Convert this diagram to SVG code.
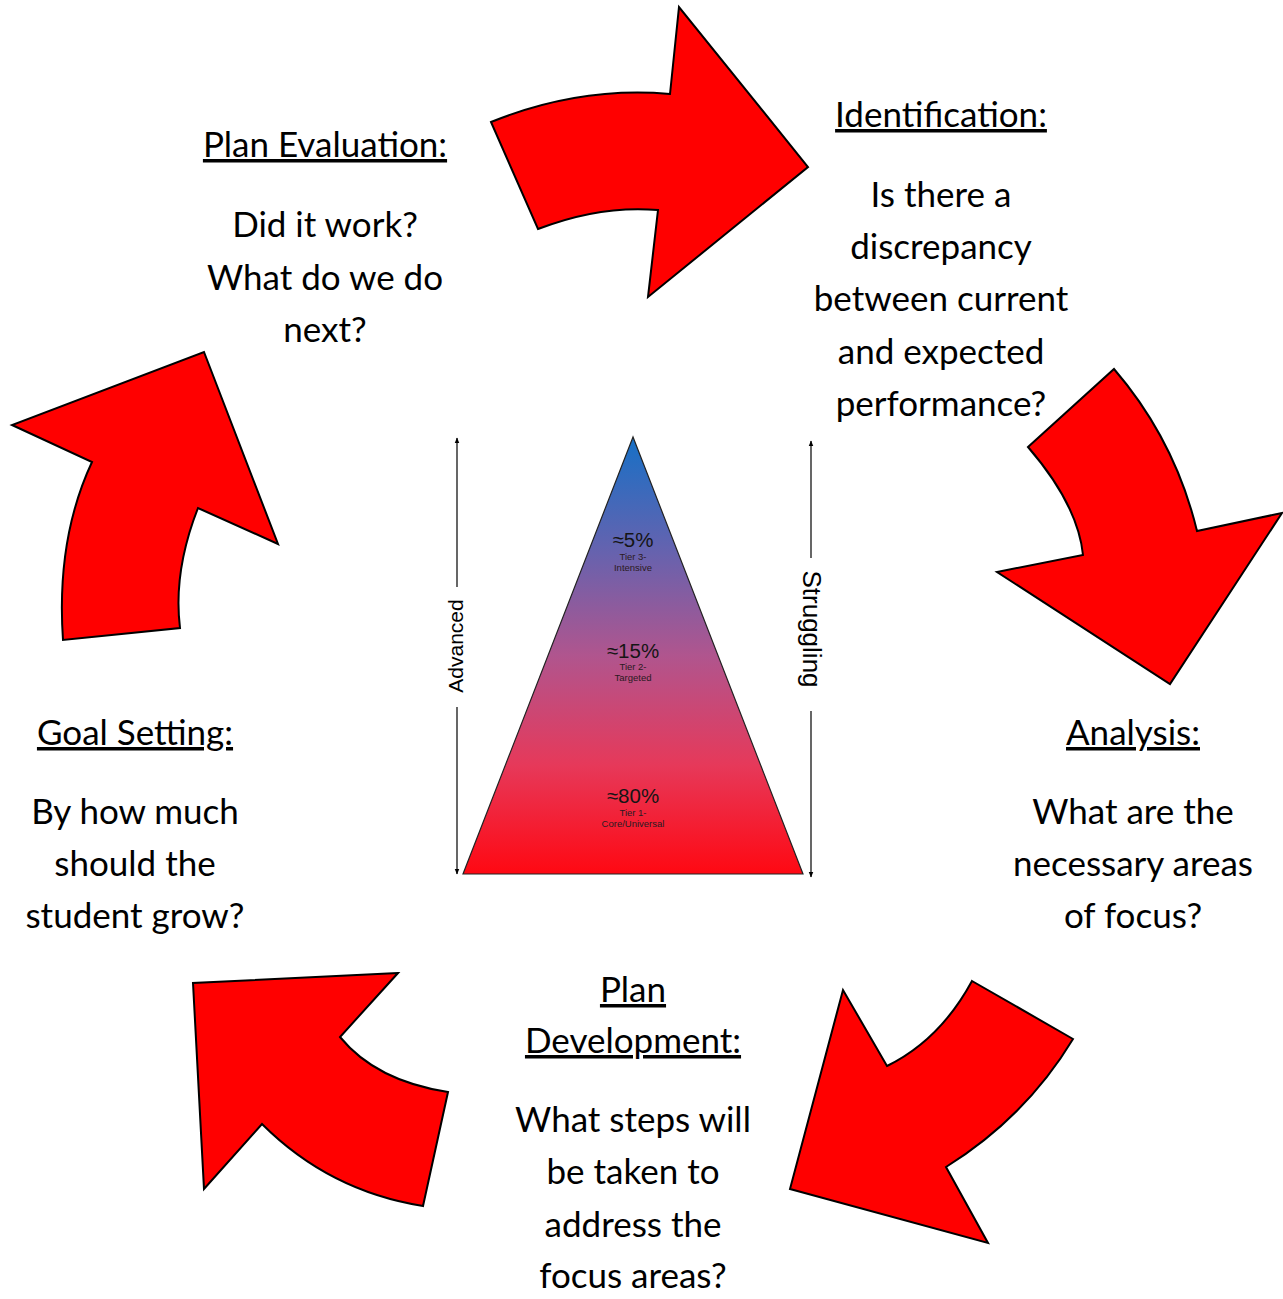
<svg xmlns="http://www.w3.org/2000/svg" width="1283" height="1299" viewBox="0 0 1283 1299">
  <defs>
    <linearGradient id="tierGrad" x1="0" y1="0" x2="0" y2="1">
      <stop offset="0" stop-color="#1670c6"/>
      <stop offset="0.25" stop-color="#6263b0"/>
      <stop offset="0.5" stop-color="#b0558e"/>
      <stop offset="0.75" stop-color="#e6395a"/>
      <stop offset="1" stop-color="#ff0812"/>
    </linearGradient>
    <marker id="tip" viewBox="0 0 10 10" refX="9" refY="5" markerWidth="5" markerHeight="5" orient="auto-start-reverse">
      <path d="M0,1 L10,5 L0,9 z" fill="#000"/>
    </marker>
    <style>
      .bigArrow { fill: #ff0000; stroke: #000; stroke-width: 2; stroke-linejoin: miter; }
      .txt { font-family: Lato, "Liberation Sans", sans-serif; font-size: 35px; fill: #000; text-anchor: middle; }
      .title { text-decoration: underline; }
      .axis { stroke: #000; stroke-width: 1.2; fill: none; }
      .axisLabel { font-family: "Liberation Sans", Arial, sans-serif; fill: #000; text-anchor: middle; }
      .pct { font-family: "Liberation Sans", Arial, sans-serif; font-size: 20.5px; fill: #151515; text-anchor: middle; }
      .tier { font-family: "Liberation Sans", Arial, sans-serif; font-size: 9.5px; fill: #2a1a22; text-anchor: middle; }
    </style>
  </defs>

  <!-- curved cycle arrows -->
  <g id="cycle-arrows">
    <path id="arrow-top" class="bigArrow" d="M491,122 Q580,86 670,94 L679,7 L808,167 L648,297 L658,210 Q600,205 538,229 Z"/>
    <path id="arrow-right" class="bigArrow" d="M1028,447 L1114,369 Q1175,440 1197,531 L1282,513 L1170,684 L997,572 L1083,555 Q1078,505 1028,447 Z"/>
    <path id="arrow-bottom-right" class="bigArrow" d="M972,981 L1073,1039 Q1026,1117 946,1167 L988,1243 L790,1189 L843,990 L887,1066 Q940,1040 972,981 Z"/>
    <path id="arrow-bottom-left" class="bigArrow" d="M398,973 L193,983 L204,1189 L262,1124 Q329,1191 423,1206 L448,1092 Q376,1081 340,1037 Z"/>
    <path id="arrow-left" class="bigArrow" d="M204,352 L278,544 L198,508 Q173,572 180,628 L63,640 Q56,539 92,462 L12,425 Z"/>
  </g>

  <!-- tier pyramid -->
  <g id="pyramid">
    <polygon points="633,437 463,874 803,874" fill="url(#tierGrad)" stroke="#222" stroke-width="1.2"/>
    <text class="pct" x="633" y="547">≈5%</text>
    <text class="tier" x="633" y="560">Tier 3-</text>
    <text class="tier" x="633" y="571">Intensive</text>
    <text class="pct" x="633" y="658">≈15%</text>
    <text class="tier" x="633" y="670">Tier 2-</text>
    <text class="tier" x="633" y="681">Targeted</text>
    <text class="pct" x="633" y="803">≈80%</text>
    <text class="tier" x="633" y="816">Tier 1-</text>
    <text class="tier" x="633" y="827">Core/Universal</text>
  </g>

  <!-- side scale lines -->
  <g id="connectors">
    <line class="axis" x1="457" y1="587" x2="457" y2="438" marker-end="url(#tip)"/>
    <line class="axis" x1="457" y1="707" x2="457" y2="874" marker-end="url(#tip)"/>
    <line class="axis" x1="811" y1="558" x2="811" y2="441" marker-end="url(#tip)"/>
    <line class="axis" x1="811" y1="711" x2="811" y2="877" marker-end="url(#tip)"/>
  </g>
  <g id="scale-labels">
    <text class="axisLabel" font-size="21" transform="translate(463,646) rotate(-90)">Advanced</text>
    <text class="axisLabel" font-size="26" transform="translate(803,629) rotate(90)">Struggling</text>
  </g>

  <!-- step labels -->
  <g id="identification">
    <text class="txt title" x="941" y="127">Identification:</text>
    <text class="txt" x="941" y="207">Is there a</text>
    <text class="txt" x="941" y="259">discrepancy</text>
    <text class="txt" x="941" y="311">between current</text>
    <text class="txt" x="941" y="364">and expected</text>
    <text class="txt" x="941" y="416">performance?</text>
  </g>
  <g id="analysis">
    <text class="txt title" x="1133" y="745">Analysis:</text>
    <text class="txt" x="1133" y="824">What are the</text>
    <text class="txt" x="1133" y="876">necessary areas</text>
    <text class="txt" x="1133" y="928">of focus?</text>
  </g>
  <g id="plan-development">
    <text class="txt title" x="633" y="1002">Plan</text>
    <text class="txt title" x="633" y="1053">Development:</text>
    <text class="txt" x="633" y="1132">What steps will</text>
    <text class="txt" x="633" y="1184">be taken to</text>
    <text class="txt" x="633" y="1237">address the</text>
    <text class="txt" x="633" y="1288">focus areas?</text>
  </g>
  <g id="goal-setting">
    <text class="txt title" x="135" y="745">Goal Setting:</text>
    <text class="txt" x="135" y="824">By how much</text>
    <text class="txt" x="135" y="876">should the</text>
    <text class="txt" x="135" y="928">student grow?</text>
  </g>
  <g id="plan-evaluation">
    <text class="txt title" x="325" y="157">Plan Evaluation:</text>
    <text class="txt" x="325" y="237">Did it work?</text>
    <text class="txt" x="325" y="290">What do we do</text>
    <text class="txt" x="325" y="342">next?</text>
  </g>
</svg>
